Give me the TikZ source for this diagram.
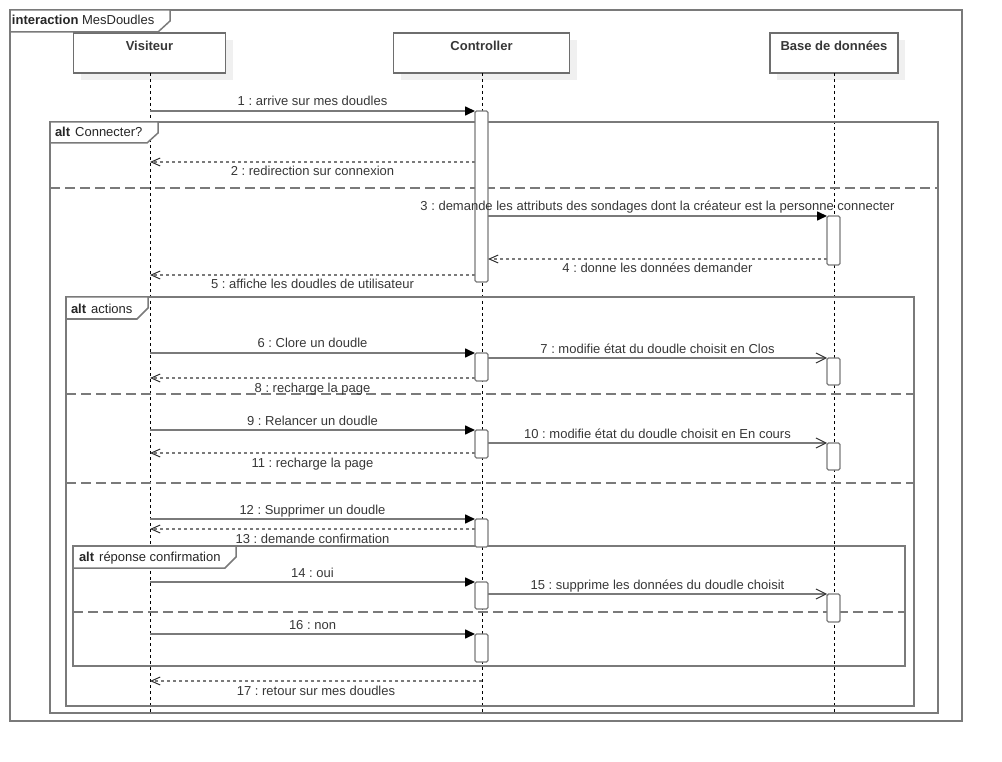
\documentclass[tikz,border=0pt]{standalone}
\usepackage{fontspec}
\setmainfont{Liberation Sans}
\usetikzlibrary{arrows.meta,shadows}
\frenchspacing

\definecolor{linegray}{RGB}{122,122,122}
\definecolor{boxgray}{RGB}{110,110,110}
\definecolor{shadowgray}{RGB}{240,240,240}
\definecolor{textgray}{RGB}{55,55,55}

\tikzset{
  every node/.style={font=\fontsize{13}{15}\selectfont, text=textgray, inner sep=0pt, outer sep=0pt},
  % participant header boxes
  headbox/.style={draw=boxgray, line width=1.5pt, fill=white, anchor=north,
    text height=17.5pt, text depth=22.5pt, font=\fontsize{13}{15}\selectfont\bfseries,
    drop shadow={shadow xshift=7pt, shadow yshift=-7pt, fill=shadowgray, opacity=1, draw=none}},
  lifeline/.style={draw=black, line width=0.9pt, dash pattern=on 3pt off 3pt},
  % combined fragments
  fragment/.style={draw=linegray, line width=1.5pt},
  fragtab/.style={draw=linegray, line width=1.5pt, fill=white},
  fraglabel/.style={anchor=base west, text=black!85},
  operand/.style={draw=linegray, line width=1.8pt, dash pattern=on 10pt off 5pt},
  % activation bars
  actbar/.style={draw=linegray, line width=1.4pt, fill=white, minimum width=13pt,
    anchor=north, rounded corners=1.5pt},
  % messages
  sync/.style={draw=linegray, line width=1.6pt, -{Triangle[length=10pt,width=9pt,fill=black,color=black]}},
  async/.style={draw=linegray, line width=1.6pt, -{Straight Barb[length=10pt,width=10pt,line width=1pt,color=black!80]}},
  reply/.style={draw=linegray, line width=1.6pt, dash pattern=on 3.5pt off 2.5pt,
    -{Straight Barb[length=9pt,width=8pt,line width=1pt,color=black!80]}},
  labup/.style={midway, anchor=base, yshift=5pt},
  labdown/.style={midway, anchor=base, yshift=-14pt},
}

\begin{document}
\begin{tikzpicture}[x=1pt,y=-1pt]
\useasboundingbox (0,0) rectangle (1002,762);

% participants
\node[headbox, minimum width=152pt] (vis)  at (149.5,33) {Visiteur};
\node[headbox, minimum width=176pt] (ctrl) at (481.5,33) {Controller};
\node[headbox, minimum width=128pt] (db)   at (834,33)   {Base de données};

% lifeline ends
\coordinate (visEnd)  at (150,714);
\coordinate (ctrlEnd) at (482,714);
\coordinate (dbEnd)   at (834,714);
\draw[lifeline] (vis.south -| visEnd) -- (visEnd);
\draw[lifeline] (ctrl.south -| ctrlEnd) -- (ctrlEnd);
\draw[lifeline] (db.south -| dbEnd) -- (dbEnd);

% interaction frame
\draw[fragment] (10,10) rectangle (962,721);
\draw[fragtab] (10,10) -- (170,10) -- (170,21) -- (158,32) -- (10,32) -- cycle;
\node[fraglabel] (fInter) at (12,25) {\textbf{interaction} MesDoudles};

% alt Connecter?
\draw[fragment] (50,122) rectangle (938,713);
\draw[operand] (50,188) -- (938,188);
\draw[fragtab] (50,122) -- (158,122) -- (158,133) -- (147,143) -- (50,143) -- cycle;
\node[fraglabel] (fConn) at (55,137) {\textbf{alt}\kern5pt Connecter?};

% alt actions
\draw[fragment] (66,297) rectangle (914,706);
\draw[operand] (66,394) -- (914,394);
\draw[operand] (66,483) -- (914,483);
\draw[fragtab] (66,297) -- (148,297) -- (148,308) -- (137,319) -- (66,319) -- cycle;
\node[fraglabel] (fAct) at (71,313) {\textbf{alt}\kern5pt actions};

% alt réponse confirmation
\draw[fragment] (73,546) rectangle (905,666);
\draw[operand] (73,612) -- (905,612);
\draw[fragtab] (73,546) -- (236,546) -- (236,557) -- (225,568) -- (73,568) -- cycle;
\node[fraglabel] (fConf) at (79,561) {\textbf{alt}\kern5pt réponse confirmation};

% activation bars
\node[actbar, minimum height=171pt] (c1)  at (481.5,111) {};
\node[actbar, minimum height=49pt]  (d3)  at (833.5,216) {};
\node[actbar, minimum height=28pt]  (c6)  at (481.5,353) {};
\node[actbar, minimum height=27pt]  (d7)  at (833.5,358) {};
\node[actbar, minimum height=28pt]  (c9)  at (481.5,430) {};
\node[actbar, minimum height=27pt]  (d10) at (833.5,443) {};
\node[actbar, minimum height=28pt]  (c12) at (481.5,519) {};
\node[actbar, minimum height=27pt]  (c14) at (481.5,582) {};
\node[actbar, minimum height=28pt]  (d15) at (833.5,594) {};
\node[actbar, minimum height=28pt]  (c16) at (481.5,634) {};

% message rows on the Visiteur lifeline
\coordinate (v1)  at (150,111);
\coordinate (v2)  at (150,162);
\coordinate (v5)  at (150,275);
\coordinate (v6)  at (150,353);
\coordinate (v8)  at (150,378);
\coordinate (v9)  at (150,430);
\coordinate (v11) at (150,453);
\coordinate (v12) at (150,519);
\coordinate (v13) at (150,529);
\coordinate (v14) at (150,582);
\coordinate (v16) at (150,634);
\coordinate (v17) at (150,681);
\coordinate (r4)  at (0,259);

% messages
\draw[sync]  (v1) -- (c1.north west) node[labup] (t1) {1 : arrive sur mes doudles};
\draw[reply] (c1.west |- v2) -- (v2) node[labdown] (t2) {2 : redirection sur connexion};
\draw[sync]  (c1.east |- d3.north) -- (d3.north west) node[labup] (t3) {3 : demande les attributs des sondages dont la créateur est la personne connecter};
\draw[reply] (d3.west |- r4) -- (c1.east |- r4) node[labdown] (t4) {4 : donne les données demander};
\draw[reply] (c1.west |- v5) -- (v5) node[labdown] (t5) {5 : affiche les doudles de utilisateur};

\draw[sync]  (v6) -- (c6.north west) node[labup] (t6) {6 : Clore un doudle};
\draw[async] (c6.east |- d7.north) -- (d7.north west) node[labup] (t7) {7 : modifie état du doudle choisit en Clos};
\draw[reply] (c6.west |- v8) -- (v8) node[labdown] (t8) {8 : recharge la page};

\draw[sync]  (v9) -- (c9.north west) node[labup] (t9) {9 : Relancer un doudle};
\draw[async] (c9.east |- d10.north) -- (d10.north west) node[labup] (t10) {10 : modifie état du doudle choisit en En cours};
\draw[reply] (c9.west |- v11) -- (v11) node[labdown] (t11) {11 : recharge la page};

\draw[sync]  (v12) -- (c12.north west) node[labup] (t12) {12 : Supprimer un doudle};
\draw[reply] (c12.west |- v13) -- (v13) node[labdown] (t13) {13 : demande confirmation};
\draw[sync]  (v14) -- (c14.north west) node[labup] (t14) {14 : oui};
\draw[async] (c14.east |- d15.north) -- (d15.north west) node[labup] (t15) {15 : supprime les données du doudle choisit};
\draw[sync]  (v16) -- (c16.north west) node[labup] (t16) {16 : non};
\draw[reply] (ctrlEnd |- v17) -- (v17) node[labdown] (t17) {17 : retour sur mes doudles};
\end{tikzpicture}
\end{document}
